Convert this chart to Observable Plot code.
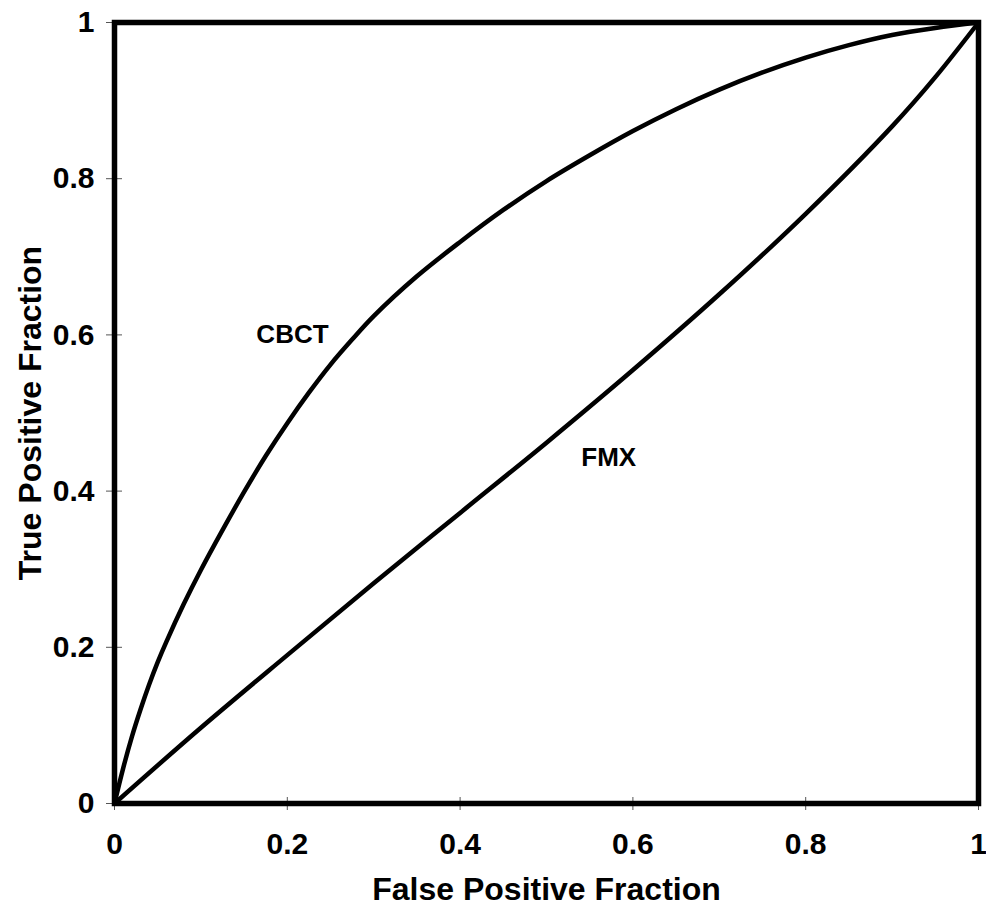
<!DOCTYPE html>
<html>
<head>
<meta charset="utf-8">
<script src="https://cdn.jsdelivr.net/npm/d3@7"></script>
<script src="https://cdn.jsdelivr.net/npm/@observablehq/plot@0.6"></script>
<style>
  html, body { margin: 0; padding: 0; background: #fff; }
  #chart svg { display: block; }
</style>
</head>
<body>
<div id="chart"></div>
<script>
// Tick values
const xTicks = [0, 0.2, 0.4, 0.6, 0.8, 1];
const yTicks = [0, 0.2, 0.4, 0.6, 0.8, 1];

// CBCT ROC curve (false positive fraction, true positive fraction)
const cbctFPF = [0, 0.01, 0.02, 0.03, 0.04, 0.05, 0.06, 0.08, 0.1, 0.125, 0.15, 0.175, 0.2, 0.225, 0.25, 0.275, 0.3, 0.35, 0.4, 0.45, 0.5, 0.55, 0.6, 0.65, 0.7, 0.75, 0.8, 0.85, 0.9, 0.95, 1];
const cbctTPF = [0, 0.045, 0.085, 0.12, 0.152, 0.181, 0.207, 0.255, 0.299, 0.35, 0.399, 0.445, 0.487, 0.526, 0.562, 0.594, 0.624, 0.675, 0.719, 0.760, 0.797, 0.830, 0.861, 0.889, 0.914, 0.936, 0.955, 0.971, 0.984, 0.993, 1];

// FMX ROC curve
const fmxFPF = [0, 0.1, 0.2, 0.3, 0.4, 0.5, 0.6, 0.7, 0.8, 0.9, 0.95, 1];
const fmxTPF = [0, 0.097, 0.19, 0.282, 0.372, 0.462, 0.555, 0.652, 0.755, 0.867, 0.93, 1];

// Curve labels
const labelNames = ["CBCT", "FMX"];
const labelX = [0.206, 0.572];
const labelY = [0.6, 0.443];

const xTitle = "False Positive Fraction";
const yTitle = "True Positive Fraction";

const cbct = cbctFPF.map((x, i) => ({x, y: cbctTPF[i]}));
const fmx = fmxFPF.map((x, i) => ({x, y: fmxTPF[i]}));
const labels = labelNames.map((t, i) => ({t, x: labelX[i], y: labelY[i]}));
const fmt = d => String(d);

const chart = Plot.plot({
  width: 986,
  height: 915,
  marginLeft: 114,
  marginRight: 8,
  marginTop: 22,
  marginBottom: 112,
  x: {domain: [0, 1]},
  y: {domain: [0, 1]},
  style: {
    fontFamily: "'Liberation Sans', Arial, sans-serif",
    fontWeight: "bold",
    fontSize: "26px",
    color: "black",
    background: "white"
  },
  marks: [
    Plot.axisX(xTicks, {tickSize: 13, dy: -6, stroke: "#555", tickFormat: () => "", label: null}),
    Plot.axisX(xTicks, {tickSize: 0, tickPadding: 29, tickFormat: fmt, label: null, fill: "black", fontSize: 30, fontWeight: "bold"}),
    Plot.axisY(yTicks, {tickSize: 16, dx: 8, stroke: "#555", tickFormat: () => "", label: null}),
    Plot.axisY(yTicks, {tickSize: 0, tickPadding: 20, tickFormat: fmt, label: null, fill: "black", fontSize: 30, fontWeight: "bold"}),
    Plot.frame({stroke: "black", strokeWidth: 5.5}),
    Plot.line(cbct, {x: "x", y: "y", curve: "catmull-rom", stroke: "black", strokeWidth: 4.5}),
    Plot.line(fmx, {x: "x", y: "y", curve: "catmull-rom", stroke: "black", strokeWidth: 4.5}),
    Plot.text(labels, {x: "x", y: "y", text: "t", fontSize: 26, fontWeight: "bold", fill: "black"}),
    Plot.text([xTitle], {frameAnchor: "bottom", dy: 96, text: d => d, textAnchor: "middle", fontSize: 32, fontWeight: "bold", fill: "black"}),
    Plot.text([yTitle], {frameAnchor: "left", dx: -84, rotate: -90, text: d => d, textAnchor: "middle", fontSize: 32, fontWeight: "bold", fill: "black"})
  ]
});
document.getElementById("chart").appendChild(chart);
</script>
</body>
</html>
